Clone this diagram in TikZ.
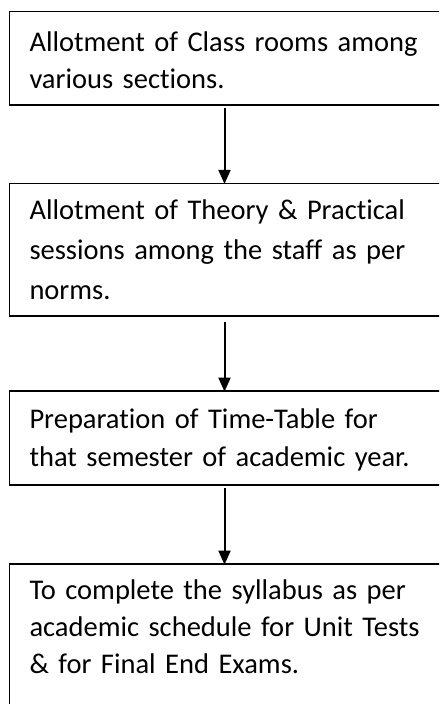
\documentclass[tikz,border=0pt]{standalone}
\usepackage{fontspec}
\setmainfont[Ligatures={NoCommon,NoContextual},RawFeature={-liga;-clig;-dlig}]{Carlito}
\usetikzlibrary{arrows.meta}
\newcommand{\boxfont}[1]{\fontsize{28.5}{#1}\selectfont}
\tikzset{
  box/.style={draw=black, line width=1.2pt, anchor=north west, align=left,
    text width=430pt, inner xsep=20pt, inner ysep=0pt, outer sep=0pt},
  arr/.style={line width=2pt, -{Triangle[width=12pt,length=14pt]}, shorten >=-0.6pt}
}
\begin{document}
\begin{tikzpicture}[x=1pt,y=-1pt]
\path[use as bounding box] (0,0) rectangle (439,704);
\clip (0,0) rectangle (439,704);
\node[box, font=\boxfont{36.5}, text height=40pt, text depth=53.5pt] (b1) at (9.5,11.5)
  {Allotment of Class rooms among\\various sections.};
\node[box, font=\boxfont{40}, text height=35.7pt, text depth=97pt] (b2) at (9.5,183.3)
  {Allotment of Theory \& Practical\\sessions among the staff as per\\norms.};
\node[box, font=\boxfont{38}, text height=37pt, text depth=57pt] (b3) at (9.5,391)
  {Preparation of Time-Table for\\that semester of academic year.};
\node[box, font=\boxfont{37}, text height=35pt, text depth=160pt] (b4) at (9.5,564)
  {To complete the syllabus as per\\academic schedule for Unit Tests\\\& for Final End Exams.};
\coordinate (ax) at (224.5,0);
\draw[arr] ([yshift=-3pt]b1.south -| ax) -- (b2.north -| ax);
\draw[arr] ([yshift=-6pt]b2.south -| ax) -- (b3.north -| ax);
\draw[arr] ([yshift=-3pt]b3.south -| ax) -- (b4.north -| ax);
\end{tikzpicture}
\end{document}
